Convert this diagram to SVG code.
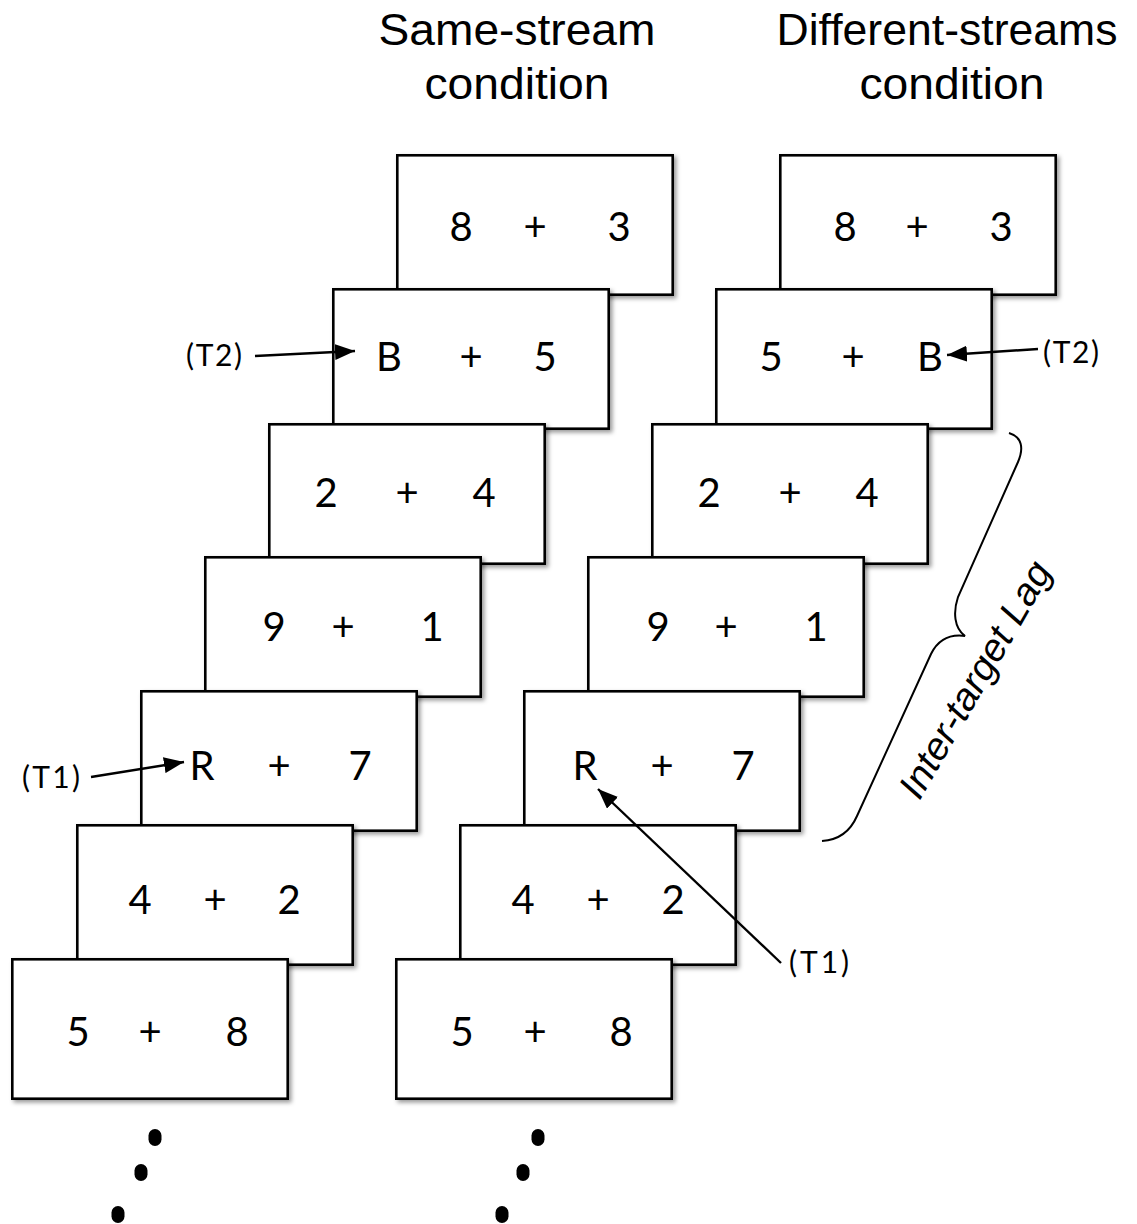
<svg xmlns="http://www.w3.org/2000/svg" width="1137" height="1224" viewBox="0 0 1137 1224">
<defs>
<filter id="sh" x="-10%" y="-10%" width="125%" height="125%">
<feDropShadow dx="2.5" dy="2.5" stdDeviation="2" flood-color="#000" flood-opacity="0.4"/>
</filter>
<marker id="ah2" viewBox="0 0 10 10" refX="10" refY="5" markerWidth="20" markerHeight="16" markerUnits="userSpaceOnUse" orient="auto" preserveAspectRatio="none">
<path d="M0,0 L10,5 L0,10 z" fill="#000"/>
</marker>
</defs>
<style>
.box{fill:#fff;stroke:#000;stroke-width:2.6;filter:url(#sh)}
.d{font-family:Lato,"Open Sans","Liberation Sans",sans-serif;font-size:40px;fill:#000;text-anchor:middle}
.lbl{font-family:Lato,"Open Sans","Liberation Sans",sans-serif;font-size:30px;fill:#000}
.ttl{font-family:"Liberation Sans",Arial,sans-serif;font-size:44px;fill:#000;text-anchor:middle}
.arr{stroke:#000;stroke-width:2.4;fill:none;marker-end:url(#ah2)}
.dot{fill:#000}
</style>
<rect width="1137" height="1224" fill="#fff"/>

<g id="titles">
<text class="ttl" x="517" y="45" textLength="277" lengthAdjust="spacingAndGlyphs">Same-stream</text>
<text class="ttl" x="517" y="99" textLength="185" lengthAdjust="spacingAndGlyphs">condition</text>
<text class="ttl" x="947" y="45" textLength="341" lengthAdjust="spacingAndGlyphs">Different-streams</text>
<text class="ttl" x="952" y="99" textLength="185" lengthAdjust="spacingAndGlyphs">condition</text>
</g>

<g id="same-stream">
<g id="s1"><rect class="box" x="397.3" y="155.3" width="275.4" height="139.4"/><text class="d" x="461" y="241">8</text><text class="d" x="535" y="241">+</text><text class="d" x="619" y="241">3</text></g>
<g id="s2"><rect class="box" x="333.3" y="289.3" width="275.4" height="139.4"/><text class="d" x="389" y="371">B</text><text class="d" x="471" y="371">+</text><text class="d" x="545" y="371">5</text></g>
<g id="s3"><rect class="box" x="269.3" y="424.3" width="275.4" height="139.4"/><text class="d" x="326" y="507">2</text><text class="d" x="407" y="507">+</text><text class="d" x="484" y="507">4</text></g>
<g id="s4"><rect class="box" x="205.3" y="557.3" width="275.4" height="139.4"/><text class="d" x="274" y="641">9</text><text class="d" x="343" y="641">+</text><text class="d" x="432" y="641">1</text></g>
<g id="s5"><rect class="box" x="141.3" y="691.3" width="275.4" height="139.4"/><text class="d" x="202" y="780">R</text><text class="d" x="279" y="780">+</text><text class="d" x="360" y="780">7</text></g>
<g id="s6"><rect class="box" x="77.3" y="825.3" width="275.4" height="139.4"/><text class="d" x="140" y="914">4</text><text class="d" x="215" y="914">+</text><text class="d" x="289" y="914">2</text></g>
<g id="s7"><rect class="box" x="12.3" y="959.3" width="275.4" height="139.4"/><text class="d" x="78" y="1046">5</text><text class="d" x="150" y="1046">+</text><text class="d" x="237" y="1046">8</text></g>
</g>

<g id="different-streams">
<g id="d1"><rect class="box" x="780.3" y="155.3" width="275.4" height="139.4"/><text class="d" x="845" y="241">8</text><text class="d" x="917" y="241">+</text><text class="d" x="1001" y="241">3</text></g>
<g id="d2"><rect class="box" x="716.3" y="289.3" width="275.4" height="139.4"/><text class="d" x="771" y="371">5</text><text class="d" x="853" y="371">+</text><text class="d" x="930" y="371">B</text></g>
<g id="d3"><rect class="box" x="652.3" y="424.3" width="275.4" height="139.4"/><text class="d" x="709" y="507">2</text><text class="d" x="790" y="507">+</text><text class="d" x="867" y="507">4</text></g>
<g id="d4"><rect class="box" x="588.3" y="557.3" width="275.4" height="139.4"/><text class="d" x="658" y="641">9</text><text class="d" x="726" y="641">+</text><text class="d" x="816" y="641">1</text></g>
<g id="d5"><rect class="box" x="524.3" y="691.3" width="275.4" height="139.4"/><text class="d" x="585" y="780">R</text><text class="d" x="662" y="780">+</text><text class="d" x="743" y="780">7</text></g>
<g id="d6"><rect class="box" x="460.3" y="825.3" width="275.4" height="139.4"/><text class="d" x="523" y="914">4</text><text class="d" x="598" y="914">+</text><text class="d" x="673" y="914">2</text></g>
<g id="d7"><rect class="box" x="396.3" y="959.3" width="275.4" height="139.4"/><text class="d" x="462" y="1046">5</text><text class="d" x="535" y="1046">+</text><text class="d" x="621" y="1046">8</text></g>
</g>

<g id="ellipsis">
<rect class="dot" x="148.5" y="1129" width="13" height="17" rx="6.5"/>
<rect class="dot" x="134.5" y="1164" width="13" height="17" rx="6.5"/>
<rect class="dot" x="111.5" y="1206" width="13" height="17" rx="6.5"/>
<rect class="dot" x="531.5" y="1129" width="13" height="17" rx="6.5"/>
<rect class="dot" x="516.5" y="1164" width="13" height="17" rx="6.5"/>
<rect class="dot" x="495.5" y="1206" width="13" height="17" rx="6.5"/>
</g>

<g id="connectors">
<line class="arr" x1="255" y1="356" x2="355" y2="351"/>
<line class="arr" x1="91" y1="777" x2="184" y2="762"/>
<line class="arr" x1="1038" y1="349" x2="947" y2="355"/>
<line class="arr" x1="781" y1="963" x2="598" y2="789"/>
</g>

<g id="labels">
<text class="lbl" x="186" y="366" textLength="56">(T2)</text>
<text class="lbl" x="22" y="788" textLength="58">(T1)</text>
<text class="lbl" x="1043" y="363" textLength="56">(T2)</text>
<text class="lbl" x="789" y="973" textLength="60">(T1)</text>
</g>

<g id="lag">
<path d="M1009 433 C1022 437 1024 448 1018 462 L958 597 C953 612 954 628 965 636 C950 634 938 640 931 654 L857 816 C850 832 838 840 822 841" fill="none" stroke="#000" stroke-width="2"/>
<text x="986" y="686" transform="rotate(-60 986 686)" text-anchor="middle" font-family="'Liberation Sans',Arial,sans-serif" font-style="italic" font-size="38" fill="#000" textLength="266" lengthAdjust="spacingAndGlyphs">Inter-target Lag</text>
</g>
</svg>
